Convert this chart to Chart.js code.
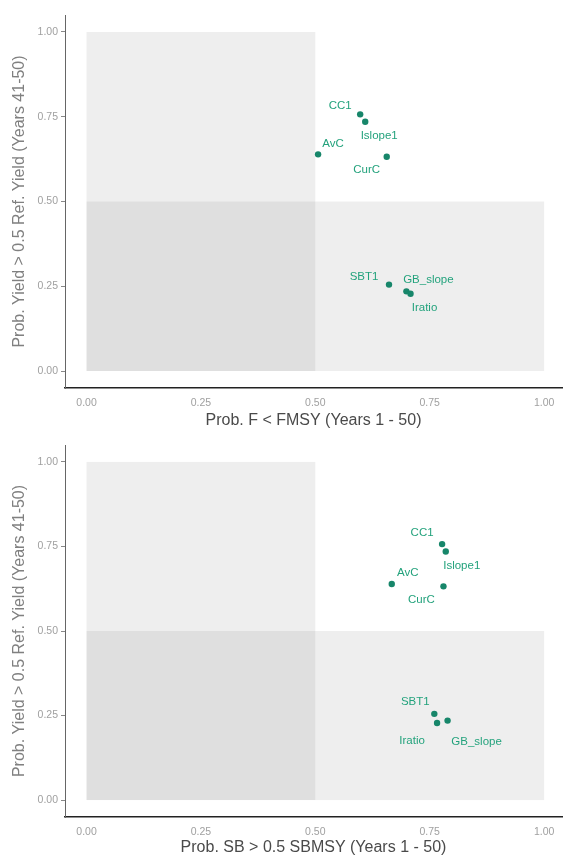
<!DOCTYPE html>
<html>
<head>
<meta charset="utf-8">
<script src="https://cdn.jsdelivr.net/npm/chart.js@4.4.1/dist/chart.umd.min.js"></script>
<style>
  html, body { margin: 0; padding: 0; background: #fff; }
  .panel { width: 566px; }
  canvas { display: block; }
</style>
</head>
<body>
<div class="panel"><canvas id="fChart" width="566" height="430"></canvas></div>
<div class="panel"><canvas id="sbChart" width="566" height="429"></canvas></div>
<script>
// management procedures and their performance probabilities
const mpNames = ['CC1', 'Islope1', 'AvC', 'CurC', 'SBT1', 'GB_slope', 'Iratio'];
const probYield = [0.757, 0.735, 0.639, 0.632, 0.255, 0.235, 0.228];
const probF = [0.598, 0.609, 0.506, 0.656, 0.661, 0.699, 0.708];
const probSB = [0.777, 0.785, 0.667, 0.780, 0.760, 0.789, 0.766];
const tickValues = [0, 0.25, 0.5, 0.75, 1];

// shaded zones [xmin, xmax, ymin, ymax]
const zones = [[0, 0.5, 0, 1], [0, 1, 0, 0.5]];

// label placement (pixels from the point), like ggrepel
const offsetsF = [[-20, -9], [14, 14], [15, -11], [-20, 13], [-25, -8], [22, -12], [14, 14]];
const offsetsSB = [[-20, -11], [16, 14], [16, -11], [-22, 13], [-19, -12], [29, 21], [-25, 18]];

const pointColor = '#17866a';
const labelColor = '#23a27c';
const fontFamily = "'Liberation Sans', Arial, sans-serif";

const zonePlugin = {
    id: 'zones',
    beforeDatasetsDraw(chart) {
        const { ctx, chartArea, scales } = chart;
        ctx.save();
        ctx.beginPath();
        ctx.rect(chartArea.left, chartArea.top, chartArea.width, chartArea.height);
        ctx.clip();
        ctx.fillStyle = 'rgba(0,0,0,0.065)';
        zones.forEach(z => {
            const x0 = scales.x.getPixelForValue(z[0]);
            const x1 = scales.x.getPixelForValue(z[1]);
            const y0 = scales.y.getPixelForValue(z[3]);
            const y1 = scales.y.getPixelForValue(z[2]);
            ctx.fillRect(x0, y0, x1 - x0, y1 - y0);
        });
        ctx.restore();
    }
};

const labelPlugin = {
    id: 'mpLabels',
    afterDatasetsDraw(chart) {
        const ctx = chart.ctx;
        const offsets = chart.options.plugins.mpLabels.offsets;
        const meta = chart.getDatasetMeta(0);
        ctx.save();
        ctx.font = '11.5px ' + fontFamily;
        ctx.fillStyle = labelColor;
        ctx.textAlign = 'center';
        ctx.textBaseline = 'middle';
        meta.data.forEach((pt, i) => {
            ctx.fillText(mpNames[i], pt.x + offsets[i][0], pt.y + offsets[i][1]);
        });
        ctx.restore();
    }
};

function makeChart(id, xValues, xTitle, offsets, titlePad) {
    const ctx = document.getElementById(id).getContext('2d');
    const points = xValues.map((x, i) => ({ x: x, y: probYield[i] }));

    return new Chart(ctx, {
        type: 'scatter',
        data: {
            datasets: [{
                data: points,
                backgroundColor: pointColor,
                borderWidth: 0,
                pointRadius: 3.2
            }]
        },
        options: {
            responsive: false,
            animation: false,
            layout: { padding: { top: 15, left: 0, right: 0, bottom: 0 } },
            plugins: {
                legend: { display: false },
                tooltip: { enabled: false },
                mpLabels: { offsets: offsets }
            },
            scales: {
                x: {
                    type: 'linear',
                    min: -0.047,
                    max: 1.039,
                    afterBuildTicks: s => { s.ticks = tickValues.map(v => ({ value: v })); },
                    afterFit: s => { s.height = 42; },
                    grid: { drawOnChartArea: false, drawTicks: true, tickLength: 4, color: 'rgba(0,0,0,0)' },
                    border: { display: true, color: '#222', width: 1.5 },
                    ticks: {
                        padding: 5,
                        maxRotation: 0,
                        color: '#a0a0a0',
                        font: { family: fontFamily, size: 10.5 },
                        callback: v => v.toFixed(2)
                    },
                    title: {
                        display: true,
                        text: xTitle,
                        color: '#4a4a4a',
                        font: { family: fontFamily, size: 16 },
                        padding: { top: 0, bottom: titlePad }
                    }
                },
                y: {
                    type: 'linear',
                    min: -0.05,
                    max: 1.05,
                    afterBuildTicks: s => { s.ticks = tickValues.map(v => ({ value: v })); },
                    afterFit: s => { s.width = 65; },
                    grid: { drawOnChartArea: false, drawTicks: true, tickLength: 4, color: '#888' },
                    border: { display: true, color: '#666', width: 1 },
                    ticks: {
                        padding: 3,
                        color: '#a0a0a0',
                        font: { family: fontFamily, size: 10.5 },
                        callback: v => v.toFixed(2)
                    },
                    title: {
                        display: true,
                        text: 'Prob. Yield > 0.5 Ref. Yield (Years 41-50)',
                        color: '#808080',
                        font: { family: fontFamily, size: 16 },
                        padding: { top: 10, bottom: 0 }
                    }
                }
            }
        },
        plugins: [zonePlugin, labelPlugin]
    });
}

makeChart('fChart', probF, 'Prob. F < FMSY (Years 1 - 50)', offsetsF, 0);
makeChart('sbChart', probSB, 'Prob. SB > 0.5 SBMSY (Years 1 - 50)', offsetsSB, 1.5);
</script>
</body>
</html>
